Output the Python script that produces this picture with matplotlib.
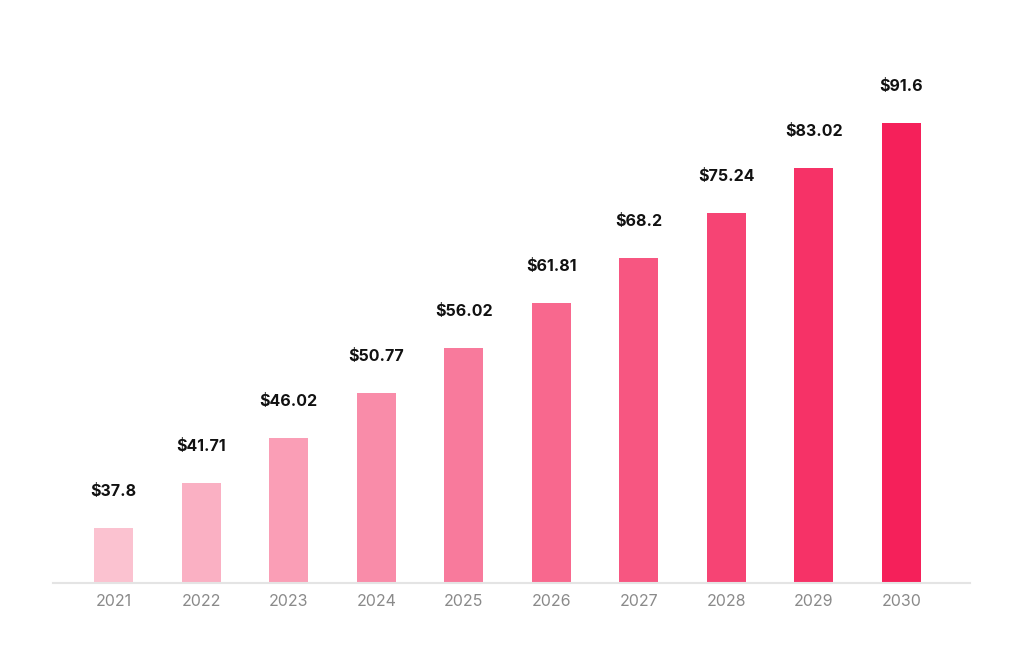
import matplotlib.pyplot as plt
import numpy as np
from matplotlib.colors import LinearSegmentedColormap

# data
years = ['2021', '2022', '2023', '2024', '2025', '2026', '2027', '2028', '2029', '2030']
values = [37.8, 41.71, 46.02, 50.77, 56.02, 61.81, 68.2, 75.24, 83.02, 91.6]

plt.rcParams['font.family'] = ['Inter', 'DejaVu Sans']

fig = plt.figure(figsize=(10.24, 6.49), dpi=100)
ax = fig.add_axes([0.052, 0.1017, 0.895, 0.806])

# pink gradient, light to strong
cmap = LinearSegmentedColormap.from_list('pinks', ['#fbc2d0', '#f5205a'])
colors = [cmap(t) for t in np.linspace(0, 1, len(years))]

x = np.arange(len(years))
ax.bar(x, values, width=0.445, color=colors, zorder=2)

for xi, v in zip(x, values):
    ax.annotate(f'${v:g}', (xi, v), xytext=(0, 26), textcoords='offset points',
                ha='center', va='center', fontsize=11.5, fontweight='bold',
                color='#111111')

ax.set_yscale('log')
ax.set_ylim(33.5, 105.1)
ax.set_xlim(-0.69, 9.78)
ax.set_xticks(x)
ax.set_xticklabels(years)
ax.tick_params(axis='x', length=0, pad=8, labelsize=11.5, labelcolor='#8a8a8a')
ax.set_yticks([])
ax.yaxis.set_minor_locator(plt.NullLocator())

for side in ['left', 'right', 'top']:
    ax.spines[side].set_visible(False)
ax.spines['bottom'].set_color('#e4e4e4')
ax.spines['bottom'].set_linewidth(1.5)

fig.savefig('out.png', dpi=100)
